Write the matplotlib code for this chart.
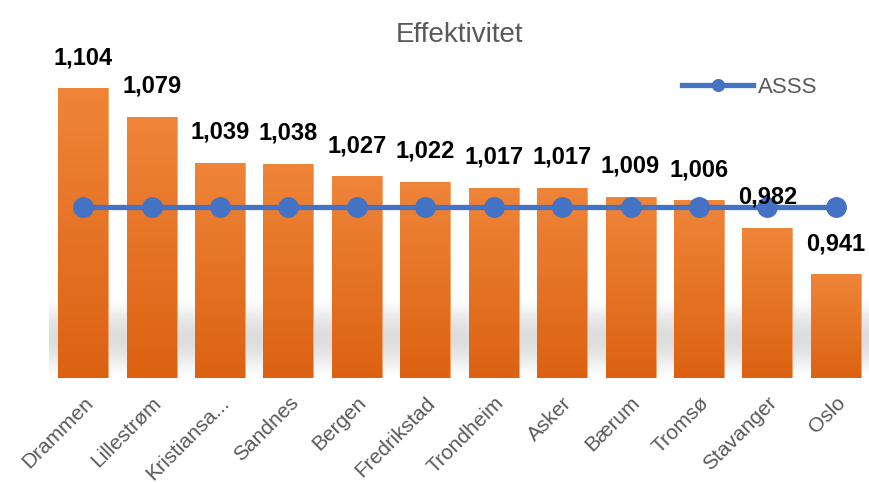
import numpy as np
import matplotlib
matplotlib.use('Agg')
import matplotlib.pyplot as plt
from matplotlib.colors import LinearSegmentedColormap

plt.rcParams['font.family'] = ['Liberation Sans', 'DejaVu Sans']

kommuner = ['Drammen', 'Lillestrøm', 'Kristiansa...', 'Sandnes', 'Bergen', 'Fredrikstad',
            'Trondheim', 'Asker', 'Bærum', 'Tromsø', 'Stavanger', 'Oslo']
effektivitet = [1.104, 1.079, 1.039, 1.038, 1.027, 1.022, 1.017, 1.017, 1.009, 1.006, 0.982, 0.941]
asss = [1.0] * 12

fig = plt.figure(figsize=(8.7, 4.83), dpi=100)
ax = fig.add_axes([49/870, 1-378/483, 1-49/870, (378-36)/483])
ax.set_xlim(-0.5, 11.5)
ax.set_ylim(0.85, 1.15)

x = np.arange(len(kommuner))

# skygge under stolpene
shade = np.linspace(0, 1, 100).reshape(-1, 1)
grey = LinearSegmentedColormap.from_list('g', [(1, 1, 1, 0), (0.8, 0.8, 0.8, 0.65)])
ax.imshow(np.sin(shade * np.pi) ** 0.7, cmap=grey, aspect='auto', extent=(-0.5, 11.5, 0.85, 0.92),
          origin='lower', zorder=0)

bars = ax.bar(x, effektivitet, width=0.73, bottom=0, color='#E8732A',
              edgecolor='#F3A56E', linewidth=0.6, zorder=1)
orange = LinearSegmentedColormap.from_list('o', ['#DC6212', '#EF8539'])
for b in bars:
    x0, w, h = b.get_x(), b.get_width(), b.get_height()
    im = ax.imshow(shade, cmap=orange, aspect='auto', origin='lower',
                   extent=(x0, x0 + w, 0.85, h), zorder=1.5)
    im.set_clip_path(b)

ax.plot(x, asss, color='#4472C4', lw=3.8, marker='o', ms=14, label='ASSS', zorder=3)

for xi, v in zip(x, effektivitet):
    ax.annotate(f'{v:.3f}'.replace('.', ','), (xi, v), xytext=(0, 22),
                textcoords='offset points', ha='center', va='center',
                fontsize=17, fontweight='bold', color='black', zorder=4)

ax.set_title('Effektivitet', fontsize=20, color='#595959', pad=-4, y=1.0)
ax.set_xticks(x)
ax.set_xticklabels(kommuner, rotation=45, ha='right', va='top', rotation_mode='anchor',
                   fontsize=15, color='#595959')
ax.tick_params(axis='x', length=0, pad=11)
ax.set_yticks([])
for s in ax.spines.values():
    s.set_visible(False)

leg = ax.legend(loc='upper right', bbox_to_anchor=(0.96, 0.94), frameon=False,
                fontsize=16, handlelength=3.2, markerscale=0.6, handletextpad=0.2,
                labelcolor='#595959')

fig.savefig('out.png', dpi=100)
